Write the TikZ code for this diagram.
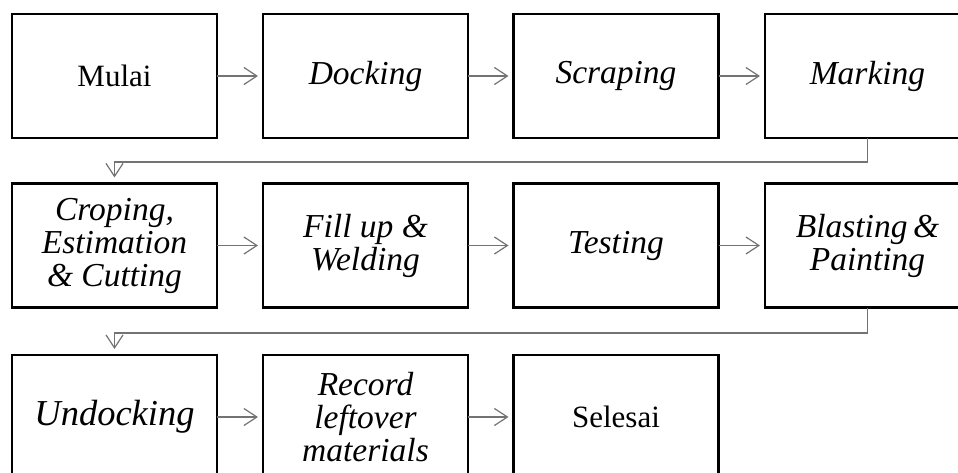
\documentclass[tikz,border=0pt]{standalone}
\usepackage{fontspec}
\setmainfont{Liberation Serif}
\usetikzlibrary{arrows.meta}
\tikzset{
  stepbox/.style={draw=black, line width=2.4pt, minimum width=205pt, minimum height=124pt,
    inner sep=0pt, outer sep=0pt, align=center, font=\fontsize{31}{33}\selectfont},
  itbox/.style={stepbox, font=\fontsize{33.5}{33}\selectfont\itshape},
  flow/.style={draw=black!55, line width=1.4pt, shorten >=5pt,
    -{Straight Barb[length=13pt, width=17pt, line width=1.2pt]}},
  back/.style={draw=black!55, line width=1.4pt, shorten >=6pt,
    -{Straight Barb[length=13pt, width=17pt, line width=1.2pt]}}
}
\begin{document}
\begin{tikzpicture}[x=1pt,y=-1pt]
\useasboundingbox (0,0) rectangle (958,473);
\clip (0,0) rectangle (958,473);
% row 1
\node[stepbox] (mulai) at (114.5,76) {Mulai};
\node[itbox] (docking) at (365.5,76) {Docking};
\node[itbox] (scraping) at (616,76) {Scraping};
\node[itbox] (marking) at (867.5,76) {Marking};
% row 2
\node[itbox] (croping) at (114.5,245.5) {Croping,\\Estimation\\\& Cutting};
\node[itbox] (fillup) at (365.5,245.5) {Fill up \&\\Welding};
\node[itbox] (testing) at (616,245.5) {Testing};
\node[itbox] (blasting) at (867.5,245.5) {Blasting\,\&\\Painting};
% row 3
\node[itbox, font=\fontsize{36.5}{38}\selectfont\itshape] (undocking) at (114.5,417) {Undocking};
\node[itbox] (record) at (365.5,417) {Record\\leftover\\materials};
\node[stepbox] (selesai) at (616,417) {Selesai};
% connectors
\draw[flow] (mulai) -- (docking);
\draw[flow] (docking) -- (scraping);
\draw[flow] (scraping) -- (marking);
\draw[back] (marking.south) |- (114.5,162) -- (croping.north);
\draw[flow] (croping) -- (fillup);
\draw[flow] (fillup) -- (testing);
\draw[flow] (testing) -- (blasting);
\draw[back] (blasting.south) |- (114.5,333) -- (undocking.north);
\draw[flow] (undocking) -- (record);
\draw[flow] (record) -- (selesai);
\end{tikzpicture}
\end{document}
